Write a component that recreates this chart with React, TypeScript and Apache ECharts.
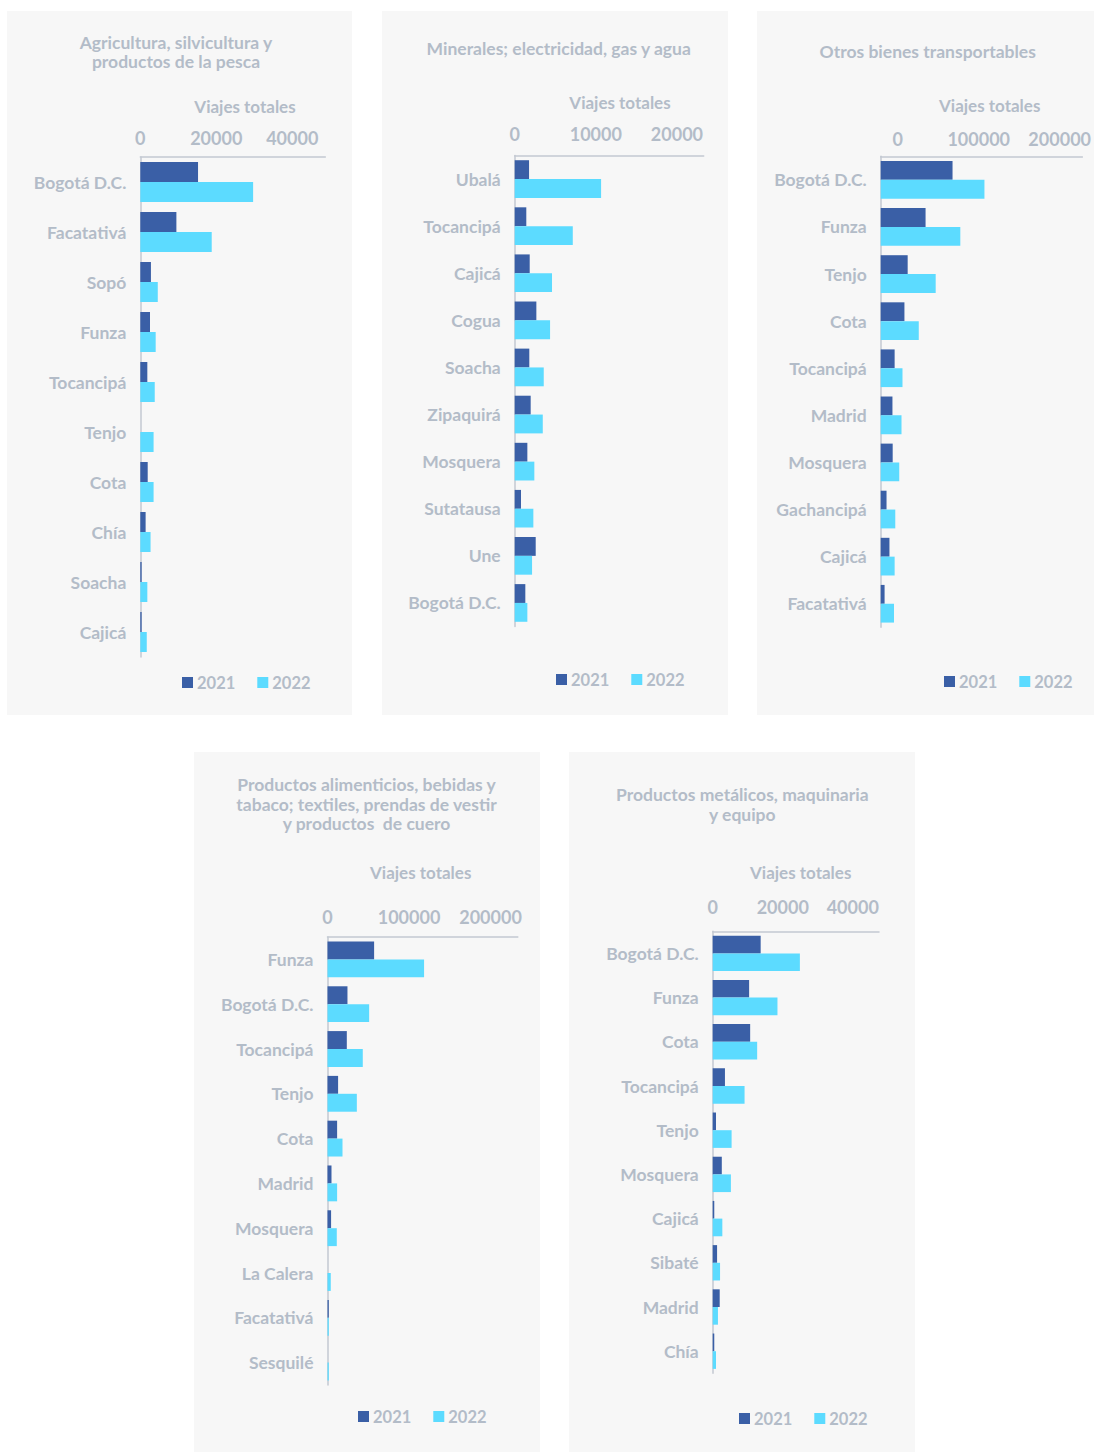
import React, { useEffect, useRef } from "react";
import * as echarts from "echarts";

// ---------- data ----------
const seriesNames = ["2021", "2022"];

const agriCategories = ["Bogotá D.C.", "Facatativá", "Sopó", "Funza", "Tocancipá", "Tenjo", "Cota", "Chía", "Soacha", "Cajicá"];
const agri2021 = [15200, 9500, 2800, 2550, 1850, 0, 1950, 1400, 350, 350];
const agri2022 = [29700, 18800, 4600, 4050, 3800, 3500, 3500, 2700, 1850, 1700];

const minCategories = ["Ubalá", "Tocancipá", "Cajicá", "Cogua", "Soacha", "Zipaquirá", "Mosquera", "Sutatausa", "Une", "Bogotá D.C."];
const min2021 = [1770, 1430, 1850, 2670, 1800, 1970, 1560, 780, 2590, 1310];
const min2022 = [10650, 7160, 4600, 4360, 3580, 3460, 2420, 2300, 2140, 1560];

const otrosCategories = ["Bogotá D.C.", "Funza", "Tenjo", "Cota", "Tocancipá", "Madrid", "Mosquera", "Gachancipá", "Cajicá", "Facatativá"];
const otros2021 = [88700, 55400, 33300, 29300, 17200, 14500, 14800, 7200, 10800, 4800];
const otros2022 = [128100, 98300, 67900, 47000, 26900, 25700, 22900, 18000, 17200, 16400];

const alimCategories = ["Funza", "Bogotá D.C.", "Tocancipá", "Tenjo", "Cota", "Madrid", "Mosquera", "La Calera", "Facatativá", "Sesquilé"];
const alim2021 = [57200, 24500, 23700, 13000, 11800, 4900, 4400, 0, 1600, 0];
const alim2022 = [118500, 51100, 43300, 36000, 18400, 11800, 11400, 4000, 1600, 1600];

const metCategories = ["Bogotá D.C.", "Funza", "Cota", "Tocancipá", "Tenjo", "Mosquera", "Cajicá", "Sibaté", "Madrid", "Chía"];
const met2021 = [13700, 10400, 10700, 3500, 950, 2600, 450, 1250, 2000, 450];
const met2022 = [24900, 18500, 12700, 9100, 5400, 5200, 2750, 2100, 1500, 950];

// axis scales (tick step and axis extent)
const agriTickStep = 20000, agriAxisMax = 48700;
const minTickStep = 10000, minAxisMax = 23300;
const otrosTickStep = 100000, otrosAxisMax = 249000;
const alimTickStep = 100000, alimAxisMax = 233500;
const metTickStep = 20000, metAxisMax = 47500;

const axisTitle = "Viajes totales";

// ---------- styles ----------
const FONT = "Lato";
const TEXT = "#b3bcc8";
const AXIS = "#c3c9d2";
const DARK = "#3a5fa6";
const LIGHT = "#5cdbff";
const BG = "#f7f7f7";

type Cfg = {
  box: { x: number; y: number; w: number; h: number };
  title: string;
  titleX: number;
  titleY: number;
  titleLH: number;
  nameX: number;
  nameY: number;
  grid: { left: number; top: number; width: number; height: number };
  max: number;
  interval: number;
  labelMargin: number;
  labelShift: number;
  legendLeft: number;
  legendCY: number;
  cats: string[];
  a: number[];
  b: number[];
};

const panels: Cfg[] = [
  {
    box: { x: 7, y: 11, w: 345, h: 704 },
    title: "Agricultura, silvicultura y\nproductos de la pesca",
    titleX: 169, titleY: 41, titleLH: 18.5,
    nameX: 238, nameY: 95,
    grid: { left: 133.3, top: 146, width: 185, height: 500 },
    max: agriAxisMax, interval: agriTickStep, labelMargin: 10, labelShift: 0,
    legendLeft: 175, legendCY: 672,
    cats: agriCategories, a: agri2021, b: agri2022,
  },
  {
    box: { x: 382, y: 11, w: 346, h: 704 },
    title: "Minerales; electricidad, gas y agua",
    titleX: 176.7, titleY: 37.7, titleLH: 18.5,
    nameX: 238, nameY: 91.7,
    grid: { left: 132.7, top: 144.5, width: 189, height: 471 },
    max: minAxisMax, interval: minTickStep, labelMargin: 13, labelShift: 0,
    legendLeft: 174, legendCY: 669,
    cats: minCategories, a: min2021, b: min2022,
  },
  {
    box: { x: 757, y: 11, w: 337, h: 704 },
    title: "Otros bienes transportables",
    titleX: 170.7, titleY: 40, titleLH: 18.5,
    nameX: 232.7, nameY: 94,
    grid: { left: 123.7, top: 145.3, width: 207, height: 471 },
    max: otrosAxisMax, interval: otrosTickStep, labelMargin: 8, labelShift: 17,
    legendLeft: 187, legendCY: 671,
    cats: otrosCategories, a: otros2021, b: otros2022,
  },
  {
    box: { x: 194, y: 752, w: 346, h: 700 },
    title: "Productos alimenticios, bebidas y\ntabaco; textiles, prendas de vestir\ny productos  de cuero",
    titleX: 172.5, titleY: 52, titleLH: 19.7,
    nameX: 226.7, nameY: 120,
    grid: { left: 133.5, top: 185, width: 190.3, height: 448 },
    max: alimAxisMax, interval: alimTickStep, labelMargin: 11, labelShift: 0,
    legendLeft: 164, legendCY: 665,
    cats: alimCategories, a: alim2021, b: alim2022,
  },
  {
    box: { x: 569, y: 752, w: 346, h: 700 },
    title: "Productos metálicos, maquinaria\ny equipo",
    titleX: 173.3, titleY: 52.5, titleLH: 19.6,
    nameX: 231.7, nameY: 120,
    grid: { left: 143.7, top: 179.3, width: 166.3, height: 442 },
    max: metAxisMax, interval: metTickStep, labelMargin: 15, labelShift: 0,
    legendLeft: 170, legendCY: 667,
    cats: metCategories, a: met2021, b: met2022,
  },
];

function buildOption(c: Cfg) {
  return {
    animation: false,
    backgroundColor: BG,
    textStyle: { fontFamily: FONT },
    grid: { ...c.grid, containLabel: false },
    xAxis: {
      type: "value",
      position: "top",
      min: 0,
      max: c.max,
      interval: c.interval,
      axisLine: { show: true, lineStyle: { color: AXIS, width: 1.5 } },
      axisTick: { show: false },
      splitLine: { show: false },
      axisLabel: {
        color: TEXT,
        fontSize: 18,
        fontWeight: "bold",
        fontFamily: FONT,
        margin: c.labelMargin,
        showMaxLabel: false,
        formatter: (v: number) => String(v),
        padding: [0, 0, 0, c.labelShift * 2],
      },
    },
    yAxis: {
      type: "category",
      inverse: true,
      data: c.cats,
      axisLine: { show: true, lineStyle: { color: AXIS, width: 1.5 } },
      axisTick: { show: false },
      axisLabel: {
        color: TEXT,
        fontSize: 17.5,
        fontWeight: "bold",
        fontFamily: FONT,
        margin: 14,
      },
    },
    legend: {
      data: seriesNames,
      left: c.legendLeft,
      top: c.legendCY - 9,
      itemWidth: 11,
      itemHeight: 11,
      itemGap: 22,
      icon: "rect",
      padding: 0,
      textStyle: { color: TEXT, fontSize: 16.5, fontWeight: "bold", fontFamily: FONT, padding: [0, 0, 0, -1] },
    },
    series: [
      {
        name: seriesNames[0],
        type: "bar",
        data: c.a,
        itemStyle: { color: DARK },
        barGap: "0%",
        barCategoryGap: "20%",
      },
      {
        name: seriesNames[1],
        type: "bar",
        data: c.b,
        itemStyle: { color: LIGHT },
        barGap: "0%",
        barCategoryGap: "20%",
      },
    ],
    graphic: [
      {
        type: "text",
        x: c.titleX,
        y: c.titleY,
        style: {
          text: c.title,
          align: "center",
          verticalAlign: "middle",
          fontSize: 17.5,
          fontWeight: "bold",
          fontFamily: FONT,
          lineHeight: c.titleLH,
          fill: TEXT,
        },
      },
      {
        type: "text",
        x: c.nameX,
        y: c.nameY,
        style: {
          text: axisTitle,
          align: "center",
          verticalAlign: "middle",
          fontSize: 17,
          fontWeight: "bold",
          fontFamily: FONT,
          fill: TEXT,
        },
      },
    ],
  };
}

function Panel({ cfg }: { cfg: Cfg }) {
  const ref = useRef<HTMLDivElement | null>(null);
  useEffect(() => {
    if (!ref.current) return;
    const chart = echarts.init(ref.current, undefined, { renderer: "svg" });
    chart.setOption(buildOption(cfg) as any);
    return () => chart.dispose();
  }, [cfg]);
  return (
    <div
      ref={ref}
      style={{
        position: "absolute",
        left: cfg.box.x,
        top: cfg.box.y,
        width: cfg.box.w,
        height: cfg.box.h,
      }}
    />
  );
}

export default function App() {
  return (
    <div
      style={{
        position: "absolute",
        left: 0,
        top: 0,
        width: 1094,
        height: 1452,
        background: "#ffffff",
        overflow: "hidden",
      }}
    >
      {panels.map((p, i) => (
        <Panel key={i} cfg={p} />
      ))}
    </div>
  );
}
